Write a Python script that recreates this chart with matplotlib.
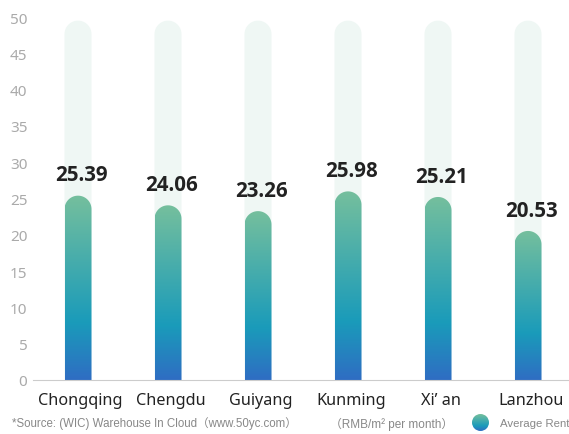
import matplotlib
matplotlib.use('Agg')
import matplotlib.pyplot as plt
import numpy as np
from matplotlib.path import Path
from matplotlib.patches import PathPatch, Circle
from matplotlib.colors import LinearSegmentedColormap

cities = ['Chongqing', 'Chengdu', 'Guiyang', 'Kunming', 'Xi’ an', 'Lanzhou']
rent = [25.39, 24.06, 23.26, 25.98, 25.21, 20.53]
y_ticks = [0, 5, 10, 15, 20, 25, 30, 35, 40, 45, 50]
bg_top = 49.5

W, H = 569, 435
fig = plt.figure(figsize=(W / 100, H / 100), dpi=100)
# axes placed in pixels: left 33, bottom 381 (from top), top 18
ax = fig.add_axes([33 / W, (H - 381) / H, 540 / W, (381 - 18) / H])

cmap = LinearSegmentedColormap.from_list(
    'rent', [(0.0, '#2f6dc3'), (0.31, '#1a9bba'), (1.0, '#75bf9d')])
grad = np.linspace(0, 1, 256).reshape(-1, 1)

bw = 0.3
px_per_y = (381 - 18) / 50.0
cap = (bw / 2 * 90) / px_per_y  # cap radius in y units


def rounded_bar(xc, top):
    x0, x1 = xc - bw / 2, xc + bw / 2
    t = np.linspace(np.pi, 0, 40)
    ax_pts = xc + bw / 2 * np.cos(t)
    ay_pts = top - cap + cap * np.sin(t)
    verts = [(x0, 0)] + list(zip(ax_pts, ay_pts)) + [(x1, 0), (x0, 0)]
    codes = [Path.MOVETO] + [Path.LINETO] * (len(verts) - 2) + [Path.CLOSEPOLY]
    return Path(verts, codes)


for i, v in enumerate(rent):
    bg = PathPatch(rounded_bar(i, bg_top), facecolor='#eff7f4', edgecolor='none', zorder=1)
    ax.add_patch(bg)
    clip = PathPatch(rounded_bar(i, v), facecolor='none', edgecolor='none',
                     transform=ax.transData)
    ax.add_patch(clip)
    im = ax.imshow(grad, cmap=cmap, origin='lower', aspect='auto',
                   extent=[i - bw / 2, i + bw / 2, 0, v], zorder=2)
    im.set_clip_path(clip)
    ax.annotate(f'{v:.2f}', (i + 0.04, v), xytext=(0, 15), textcoords='offset points',
                ha='center', va='center', fontsize=14.8, fontweight='bold',
                family='Open Sans', color='#222222')

ax.set_xlim(-0.5, 5.5)
ax.set_ylim(0, 50)
ax.set_yticks(y_ticks)
ax.set_yticklabels([str(t) for t in y_ticks], family='Noto Sans', fontsize=11, color='#aaaaaa')
ax.set_xticks([i + 0.03 for i in range(len(cities))])
ax.set_xticklabels(cities, family=['Noto Sans', 'Noto Sans CJK SC'], fontsize=11.7, color='#222222')
ax.tick_params(axis='y', length=0, pad=4)
ax.tick_params(axis='x', length=0, pad=9)
for s in ['top', 'right', 'left']:
    ax.spines[s].set_visible(False)
ax.spines['bottom'].set_color('#cccccc')
ax.set_facecolor('none')

src_font = ['Liberation Sans', 'Noto Sans CJK SC']
fig.text(12 / W, 11 / H, '*Source: (WIC) Warehouse In Cloud（www.50yc.com）',
         fontsize=8.3, color='#888888', family=src_font, va='center')
fig.text(330 / W, 11 / H, '（RMB/m² per month）',
         fontsize=8.5, color='#888888', family=src_font, va='center')
fig.text(500 / W, 11 / H, 'Average Rent',
         fontsize=8.2, color='#888888', family=src_font, va='center')

# legend marker: gradient circle
lax = fig.add_axes([472 / W, (H - 432) / H, 17 / W, 17 / H])
lim = lax.imshow(grad, cmap=cmap, origin='lower', extent=[-1, 1, -1, 1], aspect='auto')
circ = Circle((0, 0), 1, transform=lax.transData, facecolor='none', edgecolor='none')
lax.add_patch(circ)
lim.set_clip_path(circ)
lax.set_xlim(-1, 1)
lax.set_ylim(-1, 1)
lax.axis('off')

fig.savefig('out.png', dpi=100)
